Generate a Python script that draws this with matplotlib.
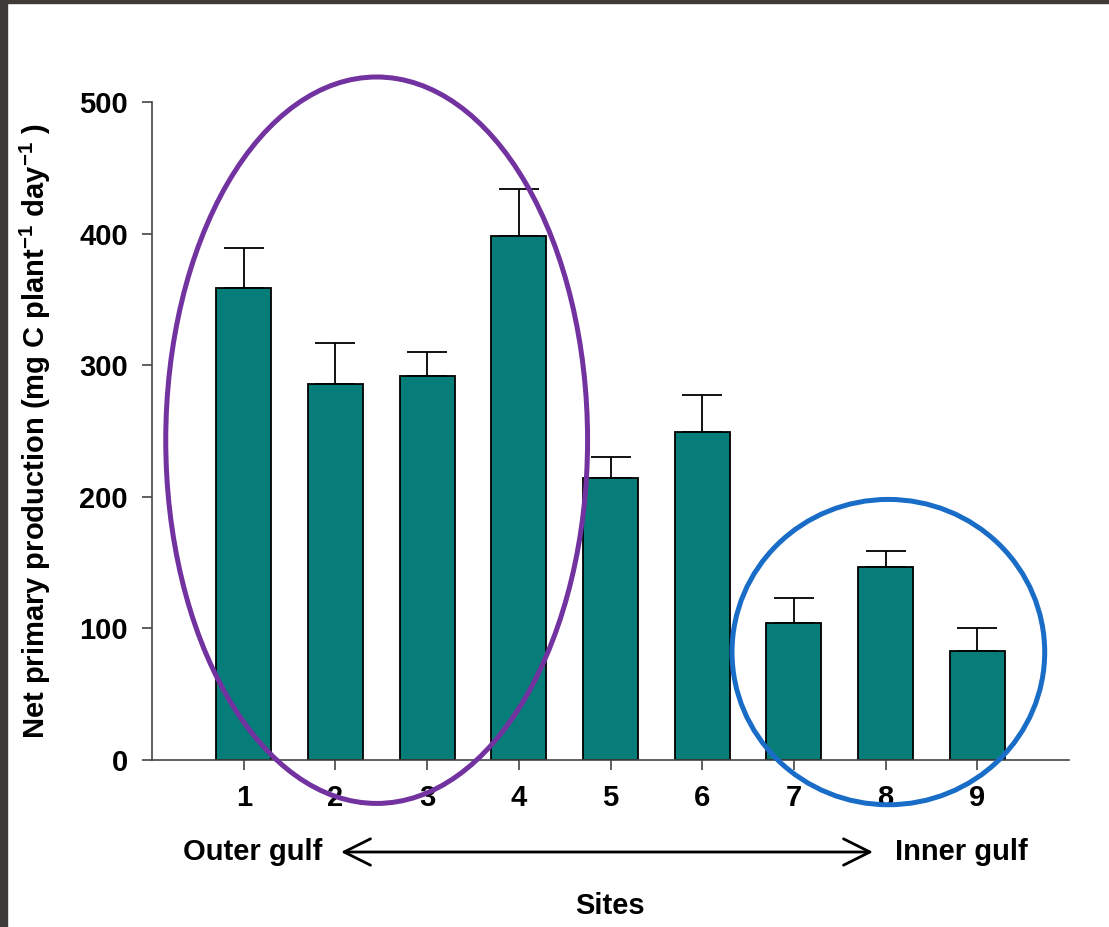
import numpy as np
import matplotlib
matplotlib.use('Agg')
import matplotlib.pyplot as plt
from matplotlib.patches import Ellipse, Rectangle

plt.rcParams['font.family'] = ['Liberation Sans', 'DejaVu Sans']
plt.rcParams['mathtext.fontset'] = 'custom'
plt.rcParams['mathtext.rm'] = 'Liberation Sans:bold'
plt.rcParams['mathtext.bf'] = 'Liberation Sans:bold'

# data
sites = [1, 2, 3, 4, 5, 6, 7, 8, 9]
npp = [359, 286, 292, 398, 214, 249, 104, 147, 83]
npp_se = [30, 31, 18, 36, 16, 28, 19, 12, 17]
yticks = [0, 100, 200, 300, 400, 500]

bar_color = '#077d79'
fs = 21

fig = plt.figure(figsize=(11.09, 9.27), dpi=100)
ax = fig.add_axes([152/1109, 1-760/927, (1069-152)/1109, (760-102)/927])

ax.bar(sites, npp, width=0.6, color=bar_color, edgecolor='black', linewidth=1.3, zorder=2)
ax.errorbar(sites, npp, yerr=[np.zeros(len(npp_se)), npp_se], fmt='none',
            ecolor='black', elinewidth=1.3, capsize=14.5, capthick=1.3, zorder=1)

ax.set_xlim(0, 10)
ax.set_ylim(0, 500)
ax.set_xticks(sites)
ax.set_yticks(yticks)
ax.spines['top'].set_visible(False)
ax.spines['right'].set_visible(False)
ax.spines['left'].set_color('#444444')
ax.spines['bottom'].set_color('#444444')
ax.spines['left'].set_linewidth(1.2)
ax.spines['bottom'].set_linewidth(1.2)
ax.tick_params(direction='out', length=7.2, width=1.2, color='#444444', labelsize=fs)
ax.tick_params(axis='y', pad=10)
ax.tick_params(axis='x', pad=10)
for lab in ax.get_xticklabels() + ax.get_yticklabels():
    lab.set_fontweight('bold')

ax.set_ylabel('Net primary production (mg C plant$^{\\mathrm{-1}}$ day$^{\\mathrm{-1}}$ )',
              fontsize=fs, fontweight='bold')
ax.yaxis.set_label_coords(-0.108, 0.5)
ax.set_xlabel('Sites', fontsize=fs, fontweight='bold')
ax.xaxis.set_label_coords(0.5, -0.200)

# outer / inner gulf arrow
fig.text(253/1109, 1-852/927, 'Outer gulf', fontsize=fs, fontweight='bold', ha='center', va='center')
fig.text(961/1109, 1-852/927, 'Inner gulf', fontsize=fs, fontweight='bold', ha='center', va='center')
ax.annotate('', xy=(341/1109, 1-852/927), xytext=(873/1109, 1-852/927), xycoords='figure fraction',
            textcoords='figure fraction',
            arrowprops=dict(arrowstyle='<->,head_length=1.9,head_width=0.95', lw=2.0, color='black',
                            shrinkA=0, shrinkB=0))

# highlight ellipses
ax.add_patch(Ellipse((2.45, 243), 4.6, 552, fill=False, edgecolor='#7232a0', lw=3.6, clip_on=False, zorder=5))
ax.add_patch(Ellipse((8.03, 82), 3.41, 232, fill=False, edgecolor='#1a6dc6', lw=3.6, clip_on=False, zorder=5))

# screenshot frame
fig.patches.append(Rectangle((0, 1-3/927), 1, 3/927, transform=fig.transFigure, color='#3e3a37', zorder=10))
fig.patches.append(Rectangle((0, 0), 7/1109, 1, transform=fig.transFigure, color='#3e3a37', zorder=10))

fig.savefig('out.png', dpi=100)
